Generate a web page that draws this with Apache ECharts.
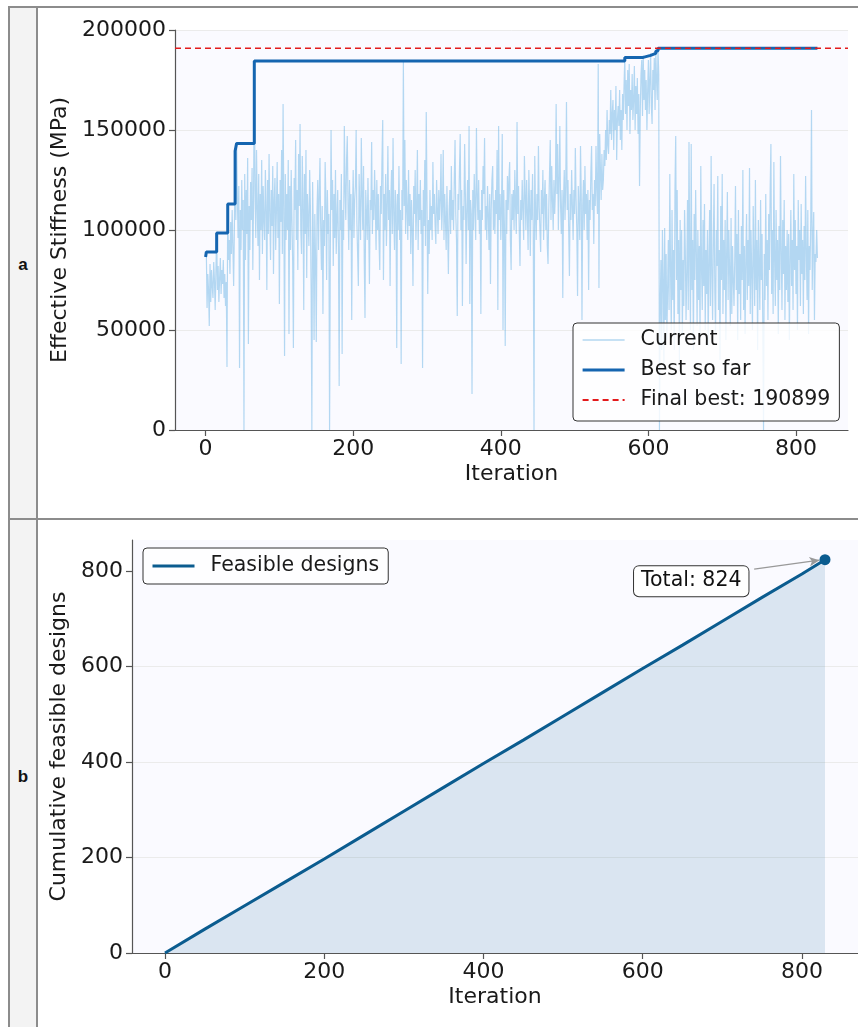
<!DOCTYPE html>
<html><head><meta charset="utf-8">
<script src="https://cdn.jsdelivr.net/npm/echarts@6/dist/echarts.min.js"></script>
<style>
html,body{margin:0;padding:0;width:858px;height:1027px;overflow:hidden;background:#fff;}
.ln{position:absolute;background:#8c8c8c;}
#colL{position:absolute;left:9px;top:8px;width:28px;height:1019px;background:#f3f3f3;}
.lab{position:absolute;left:9px;width:28px;text-align:center;font:bold 17px "Liberation Sans",Arial,sans-serif;color:#111;}
#chart{position:absolute;left:0;top:0;width:858px;height:1027px;}
</style></head>
<body>
<div id="colL"></div>
<div class="ln" style="left:8px;top:6px;width:850px;height:1.5px"></div>
<div class="ln" style="left:8px;top:6px;width:1.5px;height:1021px"></div>
<div class="ln" style="left:36px;top:6px;width:1.5px;height:1021px"></div>
<div class="ln" style="left:8px;top:518px;width:850px;height:1.5px"></div>
<div class="lab" style="top:255px">a</div>
<div class="lab" style="top:767px">b</div>
<div id="chart"></div>
<script>
// Current stiffness per iteration (in thousands of MPa), iterations 0..829
const currentK = [
86.5,89,61,78,70,52,83,64,80,72,
66,84,75,60,79,98.5,70,82,64,76,
86,68,80,73,85,66,78,62,74,31.5,
113,85,95,78,104,88,110,92,72,100,
139.5,105,143.3,118,96,122,31,110,90,125,
100,115,0,128,85,120,98,136,43,112,
90,124,105,131,80,115,184.5,120,96,140,
110,92,128,75,118,100,135,88,122,105,
95,130,112,70,125,98,138,108,85,120,
102,132,78,115,126,90,110,134,96,118,
63,125,104,140,88,163,112,37,128,95,
118,100,135,48,122,90,130,105,84,41,
126,110,145,95,120,80,138,112,153,100,
88,137,115,60,128,98,140,76,118,105,
92,130,112,70,0,124,96,45,108,85,
44,110,125,90,118,136,100,80,112,58,
105,92,134,115,75,120,98,108,0,88,
150,110,125,82,118,96,130,88,105,120,
92,22,115,100,128,38,110,95,152,120,
105,135,147,112,90,125,100,118,55,108,
130,96,115,122,150,104,88,72,128,110,
95,146,118,100,132,85,56,120,108,95,
126,102,73,115,110,144,98,120,105,130,
112,90,125,100,118,95,80,122,108,135,
155,75,118,100,128,92,110,142,105,120,
72,115,130,98,146,108,90,120,112,41,
118,100,132,95,110,33,120,105,184,112,
145,98,125,110,95,130,102,118,88,115,
100,72,122,108,130,95,112,140,90,118,
105,125,98,110,31,120,102,135,92,159,
115,68,105,88,120,100,112,95,134,108,
118,102,93,125,110,98,120,105,115,138,
100,112,140,95,118,105,90,122,100,78,
110,120,98,132,105,115,100,125,145,108,
95,57,118,110,130,148,100,120,62,112,
105,143,118,83,110,125,100,152,63,115,
108,18,120,100,128,112,95,151,118,105,
125,98,110,58,120,105,132,118,146,100,
112,95,122,108,90,118,73,110,125,132,
100,115,98,120,108,140,60,152,105,118,
95,112,148,50,120,100,42,115,98,127,
110,125,134,95,80,118,105,120,100,130,
112,98,154,108,122,100,82,115,105,125,
110,95,137,118,100,125,108,90,130,112,
87,120,105,128,100,0,137,110,95,118,
105,142,112,100,89,120,108,130,95,115,
125,100,118,92,83,110,128,145,105,132,
115,100,125,108,120,163,118,143,100,125,
152,112,98,120,66,115,130,105,122,164,
110,125,100,77,118,105,130,112,95,120,
108,141,115,100,67,122,110,95,142,118,
55,112,125,100,132,108,118,95,120,70,
115,105,128,142,110,118,93,125,112,142,
120,108,183,71,148,130,115,138,120,125,
140,132,150,135,160,142,138,155,148,170,
145,158,165,140,160,150,172,135,155,162,
152,170,145,160,140,168,155,172,186.3,158,
175,150,180,162,183,148,170,160,178,155,
165,182,150,172,158,176,148,168,122,160,
178,185,157,187.3,165,180,160,175,150,170,
185,158,175,188.3,162,153,180,170,186,160,
189.5,175,165,190.899,178,0,62,85,40,100,
75,30,101,55,88,45,70,95,60,128,
80,50,110,65,90,40,120,147,75,120,
58,95,35,105,70,100,48,85,62,110,
90,55,78,115,60,144,85,50,143,70,
95,40,108,75,120,88,52,100,65,92,
45,132,80,60,105,72,113,50,90,68,
100,42,85,110,62,137,78,55,95,123,
70,48,100,82,127,60,90,35,112,75,
128,58,95,70,105,45,88,119,65,100,
80,52,106,58,92,75,62,85,122,70,
98,45,110,68,88,55,102,75,130,60,
92,48,85,108,65,95,72,131,58,100,
78,50,112,85,62,125,70,95,40,105,
82,60,115,75,98,52,0,88,65,118,
72,95,55,108,80,120,143,68,100,58,
134,85,62,110,75,95,48,102,70,137,
88,60,105,78,115,55,92,70,100,64,
98,45,85,110,72,95,60,128,80,105,
68,92,50,115,85,100,62,113,78,95,
58,102,75,127,88,65,110,48,92,80,
105,160,70,95,109,55,88,84,100,86
];
const STIFF_UNIT = 1000;
// Best-so-far step points [iteration, MPa]
const bestSteps = [[0,86500],[1,89000],[15,98500],[30,113000],[40,139500],[42,143300],[66,184500],
  [568,186300],[593,187300],[603,188300],[610,189500],[613,190899],[829,190899]];
const finalBest = 190899;
// Cumulative feasible designs [iteration, count]
const cumIter  = [0,50,100,150,200,250,300,350,400,450,500,550,600,650,700,750,800,829];
const cumCount = [0,50,99,148,197,247,297,347,397,446,496,546,596,645,695,745,794,824];
const totalFeasible = 824;
const xTicks = [0,200,400,600,800];
const yTicksB = [0,200,400,600,800];

const X_MIN = -41.45, X_MAX = 870.45;
const FONT = 'DejaVu Sans';
const currentData = currentK.map((v,i)=>[i, v*STIFF_UNIT]);
const cumData = cumIter.map((x,i)=>[x, cumCount[i]]);
const lastIter = cumIter[cumIter.length-1];

const axisLineStyle = {show:true, onZero:false, lineStyle:{color:'#555', width:1.2}};
const tickStyle = {show:true, length:6, lineStyle:{color:'#555', width:1.2}};
const lblStyle = {fontSize:22, color:'#1a1a1a', fontFamily:FONT, formatter:(v)=>String(v)};
const nameStyle = {fontSize:22, color:'#1a1a1a', fontFamily:FONT};

function xAx(gi){
  return {gridIndex:gi, type:'value', min:X_MIN, max:X_MAX,
    axisLine:axisLineStyle, axisTick:Object.assign({customValues:xTicks}, tickStyle),
    axisLabel:Object.assign({customValues:xTicks, margin:8}, lblStyle),
    splitLine:{show:false}, name:'Iteration', nameLocation:'middle', nameGap:33, nameTextStyle:nameStyle};
}
const legendCommon = {
  orient:'vertical', itemWidth:42, itemHeight:14, selectedMode:false,
  backgroundColor:'rgba(255,255,255,0.8)', borderColor:'#333', borderWidth:1, borderRadius:4,
  itemStyle:{opacity:0},
  textStyle:{fontSize:20.5, color:'#1a1a1a', fontFamily:FONT, lineHeight:22, padding:[0,0,0,11]}
};

const chart = echarts.init(document.getElementById('chart'));
chart.setOption({
  animation:false,
  grid:[
    {left:175, top:30, width:673, height:400, show:true, backgroundColor:'#fafaff', borderWidth:0},
    {left:132, top:540, width:727, height:413, show:true, backgroundColor:'#fafaff', borderWidth:0}
  ],
  xAxis:[xAx(0), xAx(1)],
  yAxis:[
    {gridIndex:0, type:'value', min:0, max:200000, interval:50000,
     axisLine:axisLineStyle, axisTick:tickStyle, axisLabel:Object.assign({margin:9}, lblStyle),
     splitLine:{show:true, lineStyle:{color:'#ebebeb', width:1}},
     name:'Effective Stiffness (MPa)', nameLocation:'middle', nameGap:90, nameTextStyle:nameStyle},
    {gridIndex:1, type:'value', min:0, max:865.2, interval:200,
     axisLine:axisLineStyle, axisTick:Object.assign({customValues:yTicksB}, tickStyle),
     axisLabel:Object.assign({customValues:yTicksB, margin:9}, lblStyle),
     splitLine:{show:true, showMaxLine:false, lineStyle:{color:'#ebebeb', width:1}},
     name:'Cumulative feasible designs', nameLocation:'middle', nameGap:53, nameTextStyle:nameStyle}
  ],
  legend:[
    Object.assign({data:[
        {name:'Current', lineStyle:{width:1.6, color:'#b3d7f0', opacity:1}},
        {name:'Best so far', lineStyle:{width:3.2}},
        {name:'Final best: 190899', lineStyle:{width:2}}],
      left:573, top:323, itemGap:8, padding:[6,9,10,8]}, legendCommon),
    Object.assign({data:[{name:'Feasible designs', lineStyle:{width:3}}],
      left:143, top:548, padding:[7,9,7,8]}, legendCommon)
  ],
  series:[
    {name:'Current', type:'line', xAxisIndex:0, yAxisIndex:0, data:currentData, symbol:'none',
     lineStyle:{color:'#5dade2', width:1.2, opacity:0.45}, itemStyle:{color:'#5dade2'}, z:2},
    {name:'Best so far', type:'line', xAxisIndex:0, yAxisIndex:0, data:bestSteps, step:'end', symbol:'none',
     lineStyle:{color:'#1565b0', width:3}, itemStyle:{color:'#1565b0'}, z:3},
    {name:'Final best: 190899', type:'line', xAxisIndex:0, yAxisIndex:0,
     data:[[X_MIN, finalBest],[X_MAX, finalBest]], symbol:'none',
     lineStyle:{color:'#e31a1c', width:1.6, type:[6,4]}, itemStyle:{color:'#e31a1c'}, z:4},
    {name:'Feasible designs', type:'line', xAxisIndex:1, yAxisIndex:1, data:cumData, symbol:'none',
     lineStyle:{color:'#0b5c8f', width:3}, itemStyle:{color:'#0b5c8f'},
     areaStyle:{color:'#0b5c8f', opacity:0.13}, z:3},
    {name:'end', type:'scatter', xAxisIndex:1, yAxisIndex:1, data:[[lastIter, totalFeasible]],
     symbolSize:11, itemStyle:{color:'#0b5c8f', opacity:1}, z:5, silent:true,
     markLine:{silent:true, symbol:['none','arrow'], symbolSize:[7,10], animation:false,
       lineStyle:{color:'#999', width:1.3, type:'solid'}, label:{show:false},
       data:[[{coord:[740, 804]},{coord:[822, 823]}]]}},
    {name:'note', type:'scatter', xAxisIndex:1, yAxisIndex:1, data:[[661, 779]], symbolSize:0, silent:true, z:6,
     itemStyle:{opacity:1},
     label:{show:true, position:'inside', formatter:'Total: ' + totalFeasible, fontSize:20.5, color:'#111',
       fontFamily:FONT, backgroundColor:'#fff', borderColor:'#333', borderWidth:1, borderRadius:5,
       padding:[5,7,4,7]}}
  ]
});
</script>
</body></html>
